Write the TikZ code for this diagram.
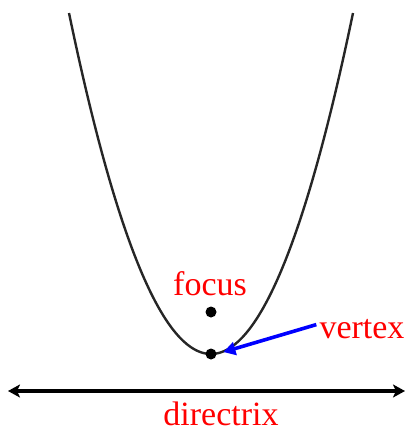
\documentclass[tikz,border=0pt]{standalone}
\usepackage{fontspec}
\setmainfont{Liberation Serif}
\usepackage{tikz}
\usetikzlibrary{arrows.meta,positioning}
\definecolor{labelred}{RGB}{255,0,0}
\definecolor{arrowblue}{RGB}{0,0,255}

\begin{document}
\begin{tikzpicture}[x=1pt,y=-1pt,
    lbl/.style={text=labelred,font=\fontsize{34}{40}\selectfont,inner sep=0pt,anchor=base},
    pt/.style={circle,fill=black,inner sep=0pt,minimum size=11pt}]
        \useasboundingbox (0,0) rectangle (406,431);
        \def\hw{142}
        % Parabola
        \draw[black!85,line width=2.4pt] plot[domain=-\hw:\hw,samples=90,smooth]
          ({211+\x},{354-341*(\x/\hw)^2});
        % Focus and vertex
        \node[pt] (focus) at (211,312) {};
        \node[pt] (vertex) at (211,354) {};
        % Directrix
        \coordinate (dl) at (8,391);
        \coordinate (dr) at (405,391);
        \draw[line width=3.6pt,{Stealth[length=12pt,width=13pt,inset=3pt]}-{Stealth[length=12pt,width=13pt,inset=3pt]}] (dl) -- (dr);
        % Labels
        \node[lbl] (focuslbl) at (210,295) {focus};
        \node[lbl] (vertexlbl) at (362,338) {vertex};
        \node[lbl] (dirlbl) at (221,425) {directrix};
        \draw[arrowblue,line width=3.6pt,-{Triangle[length=12pt,width=13pt]},shorten >=7pt]
          (vertexlbl.west) ++(-3,-4) coordinate (vs) (vs) -- (vertex.east);
      \end{tikzpicture}
\end{document}
